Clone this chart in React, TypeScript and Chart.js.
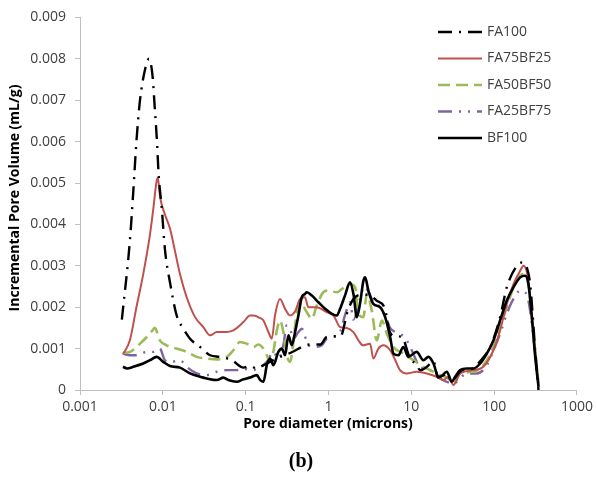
import React, { useEffect, useRef } from "react";
import { Chart, registerables } from "chart.js";

Chart.register(...registerables);

// ---- Data (pore diameter in microns, incremental pore volume in mL/g) ----
const seriesNames = ["FA100", "FA75BF25", "FA50BF50", "FA25BF75", "BF100"];

const fa100D = [0.0032, 0.004, 0.0044, 0.0048, 0.0053, 0.0062, 0.0068, 0.0075, 0.008, 0.0085, 0.0089, 0.0097, 0.0106, 0.0122, 0.0147, 0.0177, 0.0213, 0.0281, 0.0372, 0.0491, 0.068, 0.094, 0.113, 0.136, 0.15, 0.26, 0.35, 0.6, 0.8, 0.95, 1.2, 1.4, 1.7, 2.0, 2.5, 3.0, 3.8, 4.8, 5.5, 6.5, 7.7, 9.5, 11.6, 12.8, 15.4, 18.5, 21, 24, 27, 30.8, 34, 39, 47, 56, 68, 82, 90, 118, 142, 188, 216, 248, 272, 313, 343];
const fa100V = [0.0017, 0.0036, 0.0048, 0.006, 0.007, 0.0078, 0.008, 0.0076, 0.0068, 0.006, 0.0052, 0.0044, 0.0034, 0.0026, 0.0018, 0.00148, 0.00124, 0.00104, 0.00084, 0.0008, 0.00072, 0.00054, 0.00058, 0.00052, 0.00056, 0.0008, 0.0009, 0.0011, 0.0011, 0.00128, 0.0013, 0.0013, 0.0019, 0.0022, 0.0023, 0.0023, 0.00216, 0.00196, 0.0014, 0.0013, 0.00128, 0.0008, 0.0006, 0.00048, 0.00056, 0.0007, 0.0003, 0.00035, 0.0004, 0.0002, 0.0003, 0.00045, 0.0005, 0.00052, 0.0007, 0.0009, 0.00104, 0.00176, 0.00248, 0.003, 0.00308, 0.00296, 0.00256, 0.00096, 0.0];

const fa75D = [0.0033, 0.004, 0.0048, 0.0058, 0.007, 0.0077, 0.0084, 0.0087, 0.0093, 0.0106, 0.0122, 0.014, 0.0161, 0.0194, 0.0245, 0.0308, 0.0372, 0.0448, 0.054, 0.071, 0.094, 0.113, 0.124, 0.149, 0.164, 0.188, 0.207, 0.226, 0.26, 0.299, 0.344, 0.395, 0.454, 0.52, 0.57, 0.72, 0.95, 1.15, 1.38, 1.66, 2.0, 2.3, 2.6, 3.18, 3.48, 4.0, 4.6, 5.55, 6.4, 7.3, 8.8, 11.6, 15.4, 20.3, 24.4, 28, 32.3, 38.8, 56, 74, 98, 118, 142, 171, 206, 226, 259, 298, 343];
const fa75V = [0.00086, 0.0012, 0.002, 0.0028, 0.00376, 0.0044, 0.00504, 0.00512, 0.00464, 0.00424, 0.0039, 0.00336, 0.0028, 0.00224, 0.00176, 0.00152, 0.00132, 0.0014, 0.0014, 0.00144, 0.00164, 0.0018, 0.0018, 0.00174, 0.00168, 0.0014, 0.00124, 0.0018, 0.0022, 0.00196, 0.0018, 0.0019, 0.0022, 0.00224, 0.002, 0.002, 0.00188, 0.0018, 0.00152, 0.0015, 0.0014, 0.0012, 0.00108, 0.00112, 0.00076, 0.001, 0.00108, 0.00096, 0.00072, 0.00048, 0.0004, 0.00044, 0.0004, 0.00032, 0.00024, 0.00032, 0.00012, 0.0004, 0.00048, 0.00056, 0.00096, 0.00144, 0.00208, 0.00256, 0.00288, 0.003, 0.00264, 0.00136, 0.00008];

const fa50D = [0.0033, 0.004, 0.0053, 0.0064, 0.0075, 0.008, 0.0092, 0.0111, 0.0147, 0.0194, 0.0257, 0.0339, 0.0448, 0.059, 0.071, 0.0855, 0.103, 0.124, 0.142, 0.164, 0.18, 0.197, 0.216, 0.238, 0.26, 0.285, 0.313, 0.344, 0.377, 0.414, 0.454, 0.547, 0.628, 0.722, 0.867, 0.998, 1.26, 1.45, 1.82, 2.1, 2.3, 2.64, 2.9, 3.33, 3.83, 4.4, 5.06, 6.08, 8.0, 10.6, 14.0, 16.9, 22.3, 27, 32.3, 38.8, 56.2, 74.3, 98.2, 118, 142, 171, 206, 226, 259, 298, 343];
const fa50V = [0.0009, 0.00092, 0.00112, 0.00128, 0.00144, 0.0015, 0.0012, 0.00108, 0.001, 0.00092, 0.0008, 0.00076, 0.00074, 0.0008, 0.00096, 0.00116, 0.00112, 0.00104, 0.0011, 0.001, 0.00084, 0.00068, 0.00092, 0.00144, 0.00168, 0.0014, 0.00084, 0.00068, 0.00116, 0.00188, 0.00212, 0.00188, 0.00172, 0.00204, 0.00236, 0.0024, 0.00236, 0.00244, 0.00256, 0.00248, 0.00184, 0.00176, 0.00232, 0.00192, 0.0012, 0.00168, 0.00136, 0.00104, 0.00088, 0.00072, 0.00056, 0.00048, 0.00036, 0.0003, 0.00016, 0.0004, 0.00044, 0.0006, 0.00104, 0.00152, 0.002, 0.00248, 0.00276, 0.0028, 0.00256, 0.00136, 0.00016];

const fa25D = [0.0033, 0.004, 0.0048, 0.0064, 0.0077, 0.0092, 0.0106, 0.0128, 0.0161, 0.0194, 0.0257, 0.0339, 0.0448, 0.059, 0.078, 0.094, 0.113, 0.142, 0.18, 0.216, 0.248, 0.285, 0.313, 0.344, 0.377, 0.433, 0.476, 0.572, 0.689, 0.83, 0.953, 1.15, 1.38, 1.58, 1.82, 2.0, 2.4, 2.7, 3.0, 3.48, 4.2, 5.06, 5.55, 6.4, 8.0, 8.8, 9.7, 12.8, 16.1, 20.3, 22.3, 32.3, 46.8, 61.8, 81.6, 98.2, 118, 142, 171, 206, 237, 259, 298, 343];
const fa25V = [0.00088, 0.00084, 0.00084, 0.00092, 0.00092, 0.001, 0.00072, 0.00068, 0.00072, 0.00056, 0.0004, 0.00036, 0.00044, 0.00048, 0.00048, 0.00052, 0.00048, 0.00052, 0.00068, 0.00092, 0.00076, 0.00108, 0.00156, 0.00148, 0.00124, 0.0014, 0.00148, 0.00108, 0.00104, 0.00108, 0.00124, 0.00128, 0.0014, 0.0018, 0.00212, 0.0017, 0.0022, 0.0025, 0.0024, 0.00212, 0.002, 0.0017, 0.0015, 0.0014, 0.0013, 0.0012, 0.00104, 0.00056, 0.0005, 0.00035, 0.00028, 0.00016, 0.0004, 0.0004, 0.0006, 0.00096, 0.00136, 0.00184, 0.0022, 0.0024, 0.00236, 0.00216, 0.00128, 0.00016];

const bf100D = [0.0033, 0.0037, 0.0044, 0.0058, 0.007, 0.0084, 0.0101, 0.0122, 0.0161, 0.0213, 0.0281, 0.0339, 0.0448, 0.0538, 0.0618, 0.078, 0.094, 0.113, 0.136, 0.15, 0.164, 0.18, 0.197, 0.216, 0.248, 0.273, 0.299, 0.328, 0.36, 0.395, 0.433, 0.476, 0.52, 0.547, 0.63, 0.755, 0.91, 1.1, 1.26, 1.38, 1.58, 1.82, 2.0, 2.2, 2.4, 2.64, 2.77, 3.03, 3.48, 4.2, 4.83, 5.55, 6.08, 7.0, 8.0, 9.2, 11.6, 14.0, 16.1, 18.5, 21.2, 22.3, 26.8, 30.8, 33.8, 38.8, 46.8, 56.2, 67.8, 81.6, 98.2, 118, 142, 171, 206, 237, 259, 285, 313, 343];
const bf100V = [0.00056, 0.00052, 0.00056, 0.00064, 0.00072, 0.0008, 0.00068, 0.00058, 0.00054, 0.0004, 0.00032, 0.00028, 0.00024, 0.0003, 0.00024, 0.0002, 0.00026, 0.0003, 0.00036, 0.00024, 0.0002, 0.0006, 0.00076, 0.0006, 0.00092, 0.001, 0.00084, 0.00132, 0.00108, 0.0014, 0.0018, 0.00224, 0.00232, 0.00236, 0.00228, 0.00212, 0.00196, 0.00184, 0.0018, 0.00196, 0.00228, 0.0026, 0.00232, 0.00176, 0.00208, 0.00264, 0.00272, 0.0024, 0.00208, 0.002, 0.00176, 0.00128, 0.00088, 0.00084, 0.00104, 0.0008, 0.00092, 0.00072, 0.0008, 0.00064, 0.00032, 0.00032, 0.00044, 0.0002, 0.00032, 0.00048, 0.00052, 0.00052, 0.00064, 0.00088, 0.0012, 0.00168, 0.00216, 0.00248, 0.00272, 0.00276, 0.00256, 0.00176, 0.0008, 0.00008];

const xTickValues = [0.001, 0.01, 0.1, 1, 10, 100, 1000];
const xTickLabels = ["0.001", "0.01", "0.1", "1", "10", "100", "1000"];
const yTickLabels = ["0", "0.001", "0.002", "0.003", "0.004", "0.005", "0.006", "0.007", "0.008", "0.009"];

const xTitle = "Pore diameter (microns)";
const yTitle = "Incremental Pore Volume (mL/g)";
const caption = "(b)";

// ---- Styles ----
const seriesColors = ["#000000", "#C0504D", "#9BBB59", "#8064A2", "#000000"];
const seriesDash = [[14, 7, 2, 7], [], [12, 6], [14, 7, 2, 7, 2, 7], []];
const seriesWidth = [2.4, 2, 2.6, 2.4, 2.6];
const seriesOrder = [1, 2, 3, 4, 0];

const FONT = '"Open Sans", "Liberation Sans", sans-serif';
const AXIS_COLOR = "#bfbfbf";
const TEXT_COLOR = "#404040";

function toPoints(d: number[], v: number[]) {
  return d.map((x, i) => ({ x, y: v[i] }));
}

const textPlugin = {
  id: "textPlugin",
  afterDraw(chart: any) {
    const ctx = chart.ctx as CanvasRenderingContext2D;
    ctx.save();
    // Y title
    ctx.save();
    ctx.translate(15, 198);
    ctx.rotate(-Math.PI / 2);
    ctx.font = `bold 14px ${FONT}`;
    ctx.fillStyle = "#000";
    ctx.textAlign = "center";
    ctx.textBaseline = "middle";
    ctx.fillText(yTitle, 0, 0);
    ctx.restore();
    // X title
    ctx.font = `bold 14px ${FONT}`;
    ctx.fillStyle = "#000";
    ctx.textAlign = "center";
    ctx.textBaseline = "middle";
    ctx.fillText(xTitle, 328, 424);
    // caption
    ctx.font = `bold 20px "Liberation Serif", "DejaVu Serif", serif`;
    ctx.fillText(caption, 301, 462);
    // legend
    const legendX0 = 438;
    const legendX1 = 482;
    for (let i = 0; i < seriesNames.length; i++) {
      const y = 32 + i * 26.5;
      ctx.save();
      ctx.beginPath();
      ctx.setLineDash(seriesDash[i]);
      ctx.strokeStyle = seriesColors[i];
      ctx.lineWidth = seriesWidth[i];
      ctx.moveTo(legendX0, y);
      ctx.lineTo(legendX1, y);
      ctx.stroke();
      ctx.restore();
      ctx.font = `14px ${FONT}`;
      ctx.fillStyle = TEXT_COLOR;
      ctx.textAlign = "left";
      ctx.textBaseline = "middle";
      ctx.fillText(seriesNames[i], 487, y);
    }
    ctx.restore();
  },
};

export default function App() {
  const canvasRef = useRef<HTMLCanvasElement | null>(null);

  useEffect(() => {
    document.body.style.margin = "0";
    const canvas = canvasRef.current;
    if (!canvas) return;
    const datasetsD = [fa100D, fa75D, fa50D, fa25D, bf100D];
    const datasetsV = [fa100V, fa75V, fa50V, fa25V, bf100V];
    const chart = new Chart(canvas, {
      type: "line",
      data: {
        datasets: seriesNames.map((name, i) => ({
          label: name,
          data: toPoints(datasetsD[i], datasetsV[i]),
          borderColor: seriesColors[i],
          backgroundColor: seriesColors[i],
          borderWidth: seriesWidth[i],
          borderDash: seriesDash[i],
          pointRadius: 0,
          fill: false,
          cubicInterpolationMode: "monotone",
          order: seriesOrder[i],
        })),
      },
      options: {
        responsive: false,
        animation: false,
        devicePixelRatio: 1,
        parsing: true,
        layout: { padding: { left: 0, right: 20, top: 15, bottom: 0 } },
        plugins: {
          legend: { display: false },
          tooltip: { enabled: false },
          title: { display: false },
        },
        scales: {
          x: {
            type: "logarithmic",
            min: 0.001,
            max: 1000,
            afterFit: (s: any) => {
              s.height = 101;
            },
            afterBuildTicks: (s: any) => {
              s.ticks = xTickValues.map((v) => ({ value: v }));
            },
            ticks: {
              autoSkip: false,
              maxRotation: 0,
              padding: 4,
              color: TEXT_COLOR,
              font: { family: FONT, size: 14 },
              callback: (value: any) => {
                const idx = xTickValues.findIndex((t) => Math.abs(Math.log10(t) - Math.log10(Number(value))) < 1e-6);
                return idx >= 0 ? xTickLabels[idx] : "";
              },
            },
            grid: { drawOnChartArea: false, drawTicks: true, tickLength: 5, color: AXIS_COLOR },
            border: { display: true, color: AXIS_COLOR, width: 1 },
          },
          y: {
            type: "linear",
            min: 0,
            max: 0.009,
            afterFit: (s: any) => {
              s.width = 80;
            },
            ticks: {
              stepSize: 0.001,
              padding: 9,
              color: TEXT_COLOR,
              font: { family: FONT, size: 14 },
              callback: (value: any) => {
                const idx = Math.round(Number(value) / 0.001);
                return yTickLabels[idx] ?? "";
              },
            },
            grid: { drawOnChartArea: false, drawTicks: true, tickLength: 5, color: AXIS_COLOR },
            border: { display: true, color: AXIS_COLOR, width: 1 },
          },
        },
      } as any,
      plugins: [textPlugin],
    });
    return () => {
      chart.destroy();
    };
  }, []);

  return (
    <div style={{ width: 597, height: 491, background: "#fff" }}>
      <canvas ref={canvasRef} width={597} height={491} style={{ display: "block", width: 597, height: 491 }} />
    </div>
  );
}
